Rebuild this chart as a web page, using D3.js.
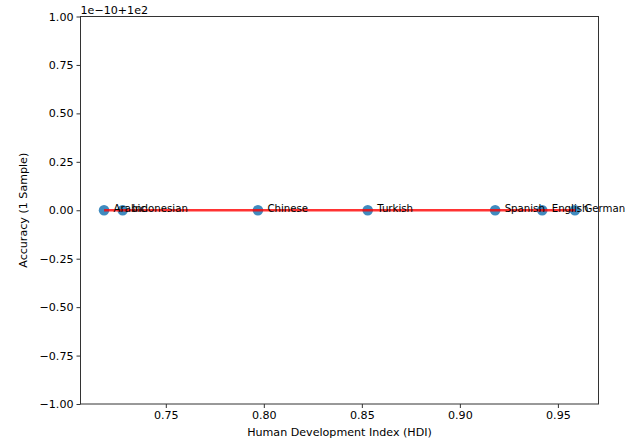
<!DOCTYPE html>
<html>
<head>
<meta charset="utf-8">
<script src="https://cdn.jsdelivr.net/npm/d3@7"></script>
<style>
  body { margin: 0; background: #fff; }
  svg { display: block; font-family: "DejaVu Sans", sans-serif; }
</style>
</head>
<body>
<svg id="chart" width="634" height="438"></svg>
<script>
const languages = ["Arabic", "Indonesian", "Chinese", "Turkish", "Spanish", "English", "German"];
const hdi = [0.7185, 0.728, 0.797, 0.853, 0.918, 0.942, 0.9587];
const accuracy = [100, 100, 100, 100, 100, 100, 100];
const xTicks = [0.75, 0.80, 0.85, 0.90, 0.95];
const yTickOffsets = [-1.00, -0.75, -0.50, -0.25, 0.00, 0.25, 0.50, 0.75, 1.00];
const yOffsetScale = 1e-10;
const yBase = 100;
const offsetLabel = "1e\u221210+1e2";

const svg = d3.select("#chart");
const margin = { left: 80.5, right: 35.5, top: 16.5, bottom: 34 };
const W = 634, H = 438;
const x0 = margin.left, x1 = W - margin.right, y0 = margin.top, y1 = H - margin.bottom;

const xmin = d3.min(hdi), xmax = d3.max(hdi), span = xmax - xmin;
const x = d3.scaleLinear().domain([xmin - 0.05 * span, xmax + 0.05 * span]).range([x0, x1]);
const y = d3.scaleLinear().domain([-1, 1]).range([y1, y0]);
const yVal = v => y((v - yBase) / yOffsetScale);

const fmtY = d => (d < 0 ? "\u2212" : "") + Math.abs(d).toFixed(2);

// points
const data = languages.map((l, i) => ({ lang: l, x: hdi[i], y: accuracy[i] }));
svg.append("g").selectAll("circle").data(data).join("circle")
  .attr("cx", d => x(d.x)).attr("cy", d => yVal(d.y)).attr("r", 5.3)
  .attr("fill", "#1f77b4").attr("fill-opacity", 0.85);

// regression line (constant)
const ext = d3.extent(data, d => d.x);
svg.append("line")
  .attr("x1", x(ext[0])).attr("x2", x(ext[1]))
  .attr("y1", yVal(d3.mean(accuracy))).attr("y2", yVal(d3.mean(accuracy)))
  .attr("stroke", "red").attr("stroke-opacity", 0.8).attr("stroke-width", 2.6);

// labels
svg.append("g").selectAll("text").data(data).join("text")
  .attr("x", d => x(d.x) + 9.5).attr("y", d => yVal(d.y) + 1.5)
  .attr("font-size", 10.2).attr("fill", "#000").text(d => d.lang);

// axes
const xAxis = d3.axisBottom(x).tickValues(xTicks).tickFormat(d3.format(".2f")).tickSize(4).tickPadding(3);
const gx = svg.append("g").attr("transform", `translate(0,${y1})`).call(xAxis);
const yAxis = d3.axisLeft(y).tickValues(yTickOffsets).tickFormat(fmtY).tickSize(4).tickPadding(3);
const gy = svg.append("g").attr("transform", `translate(${x0},0)`).call(yAxis);
[gx, gy].forEach(g => {
  g.select(".domain").remove();
  g.selectAll("text").attr("font-size", 11.1).attr("fill", "#000").attr("font-family", "DejaVu Sans");
  g.selectAll("line").attr("stroke", "#333");
});

// frame
svg.append("rect").attr("x", x0).attr("y", y0).attr("width", x1 - x0).attr("height", y1 - y0)
  .attr("fill", "none").attr("stroke", "#333").attr("stroke-width", 1);

// offset text
svg.append("text").attr("x", x0).attr("y", y0 - 3).attr("font-size", 11.1).text(offsetLabel);

// axis labels
svg.append("text").attr("x", (x0 + x1) / 2).attr("y", H - 2.5).attr("text-anchor", "middle")
  .attr("font-size", 11.1).text("Human Development Index (HDI)");
svg.append("text").attr("transform", `translate(27,${(y0 + y1) / 2}) rotate(-90)`).attr("text-anchor", "middle")
  .attr("font-size", 11.1).text("Accuracy (1 Sample)");
</script>
</body>
</html>
